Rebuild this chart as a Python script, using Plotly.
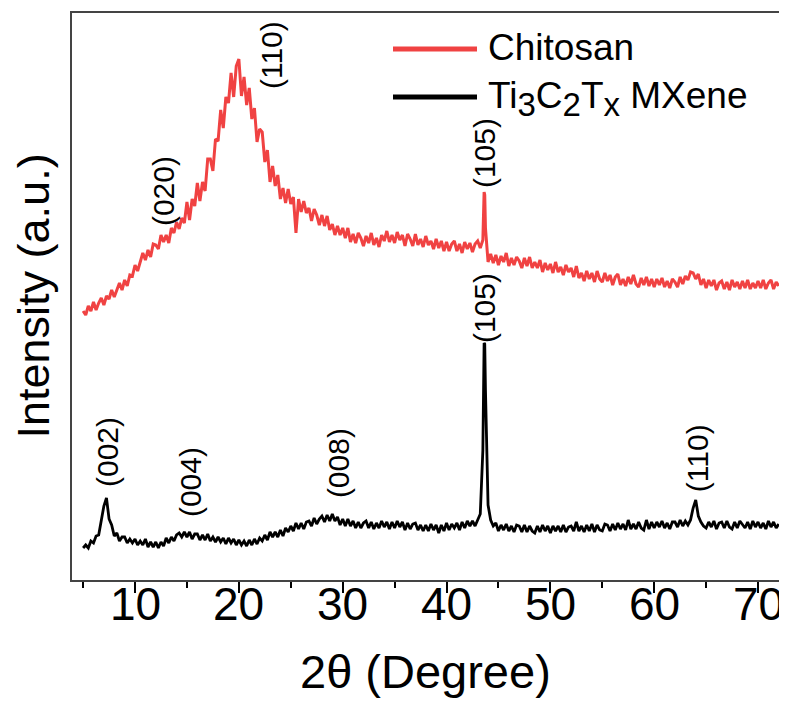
import numpy as np
import plotly.graph_objects as go

# ------------------------------
# 2theta scan grid (degrees), 0.25 deg steps
two_theta = np.arange(5.0, 72.001, 0.25)

# Intensity (a.u.), Chitosan trace (one row = 5 degrees)
chitosan = [
    269, 265, 274, 269, 278, 270, 277, 282, 275, 284, 281, 290, 283, 291, 297, 290, 300, 294, 305, 304,
    315, 309, 319, 327, 320, 330, 323, 336, 335, 331, 345, 338, 345, 337, 352, 347, 358, 351, 362, 357,
    378, 360, 381, 374, 397, 379, 398, 389, 421, 421, 409, 441, 439, 470, 452, 483, 477, 507, 483, 514,
    521, 484, 503, 475, 492, 461, 472, 438, 451, 448, 418, 430, 398, 414, 394, 405, 381, 392, 377, 391,
    376, 383, 347, 381, 368, 379, 367, 372, 359, 371, 365, 355, 365, 354, 364, 350, 356, 345, 354, 345,
    352, 342, 352, 338, 346, 337, 347, 342, 334, 344, 337, 347, 335, 342, 333, 345, 339, 349, 338, 345,
    337, 348, 340, 345, 334, 346, 341, 334, 346, 335, 341, 333, 344, 335, 339, 331, 341, 332, 339, 329,
    338, 329, 336, 339, 329, 336, 327, 338, 331, 337, 328, 336, 339, 332, 340, 352, 318, 326, 317, 325,
    315, 324, 318, 327, 314, 322, 315, 323, 319, 312, 322, 314, 323, 312, 318, 312, 320, 308, 317, 310,
    316, 307, 318, 308, 313, 305, 315, 308, 312, 303, 314, 302, 307, 299, 309, 301, 307, 298, 309, 301,
    298, 307, 299, 305, 295, 303, 306, 295, 301, 294, 303, 296, 305, 296, 293, 302, 295, 303, 294, 301,
    293, 301, 295, 302, 293, 299, 292, 301, 298, 293, 303, 296, 304, 300, 308, 307, 301, 306, 295, 301,
    292, 300, 294, 300, 290, 297, 299, 291, 298, 290, 300, 293, 298, 291, 299, 292, 300, 291, 297, 292,
    299, 292, 300, 291, 297, 300, 291, 298, 294,
]
# extra points on the sharp (105) reflection
chitosan_peak_x = [43.62, 43.68]
chitosan_peak_y = [388, 385]

# Intensity (a.u.), Ti3C2Tx MXene trace (one row = 5 degrees)
mxene = [
    32, 35, 32, 39, 37, 44, 45, 61, 74, 82, 61, 55, 44, 47, 39, 43, 43, 37, 41, 37,
    41, 35, 39, 35, 41, 33, 38, 33, 38, 32, 38, 34, 42, 37, 43, 39, 45, 47, 43, 48,
    43, 48, 41, 46, 46, 40, 45, 40, 46, 39, 43, 38, 43, 38, 42, 36, 42, 37, 41, 35,
    40, 35, 39, 34, 40, 35, 41, 36, 42, 39, 45, 40, 48, 43, 48, 43, 50, 44, 52, 48,
    54, 49, 57, 51, 57, 51, 58, 59, 54, 62, 56, 61, 64, 58, 65, 59, 66, 59, 63, 55,
    61, 54, 61, 54, 59, 52, 58, 52, 57, 59, 52, 58, 51, 57, 52, 59, 53, 58, 51, 58,
    52, 59, 53, 58, 50, 57, 51, 56, 57, 50, 55, 49, 55, 49, 56, 50, 55, 47, 55, 49,
    57, 50, 56, 52, 57, 50, 58, 52, 59, 54, 59, 54, 60, 66, 130, 190, 75, 60, 54, 57,
    49, 55, 50, 56, 49, 54, 48, 55, 54, 48, 55, 48, 54, 49, 47, 54, 48, 55, 49, 54,
    47, 54, 49, 54, 48, 55, 48, 53, 54, 49, 58, 49, 54, 48, 55, 49, 56, 48, 55, 50,
    49, 56, 55, 49, 56, 50, 57, 51, 56, 50, 60, 51, 56, 51, 58, 52, 50, 60, 51, 58,
    52, 58, 53, 59, 52, 57, 51, 58, 58, 53, 60, 54, 59, 55, 60, 72, 80, 64, 58, 54,
    52, 58, 53, 59, 51, 57, 58, 52, 59, 53, 51, 58, 52, 59, 56, 52, 58, 51, 59, 53,
    58, 52, 57, 51, 59, 53, 58, 52, 56,
]
mxene_peak_x = [43.62, 43.68]
mxene_peak_y = [237, 236]

x_ticks = [10, 20, 30, 40, 50, 60, 70]
x_minor = [5, 15, 25, 35, 45, 55, 65]


def merge(grid, vals, px, py):
    x = np.concatenate([grid, px])
    y = np.concatenate([np.asarray(vals, float), py])
    order = np.argsort(x, kind="stable")
    return x[order], y[order]


FONT = "Liberation Sans, Arial, sans-serif"
RED = "#F04242"
Y_TOP = 567   # y range in a.u.
PW, PH = 707, 567  # plot area size in px

fig = go.Figure()

xc, yc = merge(two_theta, chitosan, chitosan_peak_x, chitosan_peak_y)
xm, ym = merge(two_theta, mxene, mxene_peak_x, mxene_peak_y)

fig.add_trace(go.Scatter(x=xc, y=yc, mode="lines", name="Chitosan",
                         line=dict(color=RED, width=3)))
fig.add_trace(go.Scatter(x=xm, y=ym, mode="lines", name="Ti3C2Tx MXene",
                         line=dict(color="black", width=2.8)))

# ------------------------------
# peak labels (rotated)
peak_labels = [
    ("(020)", 12.7, 389), ("(110)", 23.1, 525), ("(105)", 43.62, 427),
    ("(105)", 43.62, 272), ("(002)", 7.3, 128), ("(004)", 15.3, 98),
    ("(008)", 29.56, 117), ("(110)", 64.14, 122),
]
annotations = []
for txt, px_, py_ in peak_labels:
    annotations.append(dict(x=px_, y=py_, xref="x", yref="y", text=txt,
                            textangle=-90, showarrow=False,
                            xanchor="center", yanchor="middle",
                            font=dict(family=FONT, size=30, color="black")))

# x tick labels (placed by hand, plotly puts big labels too low)
for t in x_ticks:
    annotations.append(dict(x=t, y=-24 / PH, xref="x", yref="paper", text=str(t),
                            showarrow=False, xanchor="center", yanchor="middle",
                            font=dict(family=FONT, size=46, color="black")))

# axis titles (positions in px relative to the plot frame)
annotations.append(dict(x=0.5, y=-91 / PH, xref="paper", yref="paper",
                        text="2θ (Degree)", showarrow=False, xanchor="center",
                        yanchor="middle", font=dict(family=FONT, size=47, color="black")))
annotations.append(dict(x=-39 / PW, y=0.5, xref="paper", yref="paper",
                        text="Intensity (a.u.)", textangle=-90, showarrow=False,
                        xanchor="center", yanchor="middle",
                        font=dict(family=FONT, size=45, color="black")))

# legend drawn by hand (long line samples)
leg_x0 = 321 / PW
leg_x1 = 405 / PW
shapes = [
    dict(type="line", xref="paper", yref="paper", x0=leg_x0, x1=leg_x1,
         y0=1 - 36 / PH, y1=1 - 36 / PH, line=dict(color=RED, width=5)),
    dict(type="line", xref="paper", yref="paper", x0=leg_x0, x1=leg_x1,
         y0=1 - 84 / PH, y1=1 - 84 / PH, line=dict(color="black", width=5)),
]
SUB = "<sub><span style='font-size:33px'>{}</span></sub>"
annotations.append(dict(x=414 / PW, y=1 - 34 / PH, xref="paper", yref="paper",
                        text="Chitosan", showarrow=False, xanchor="left",
                        yanchor="middle", font=dict(family=FONT, size=37, color="black")))
annotations.append(dict(x=414 / PW, y=1 - 86 / PH, xref="paper", yref="paper",
                        text="Ti" + SUB.format("3") + "C" + SUB.format("2") + "T"
                             + SUB.format("x") + " MXene",
                        showarrow=False, xanchor="left", yanchor="middle",
                        font=dict(family=FONT, size=37, color="black")))

# the page body adds an 8 px offset, so the figure is 8 px smaller
fig.update_layout(
    width=779, height=701,
    margin=dict(l=64, r=8, t=5, b=129),
    paper_bgcolor="white", plot_bgcolor="white",
    showlegend=False,
    font=dict(family=FONT, color="black"),
    xaxis=dict(
        range=[3.93, 72.02], tickvals=x_ticks, ticks="outside",
        ticklen=11, tickwidth=2, tickcolor="black", showticklabels=False,
        minor=dict(tickvals=x_minor, ticks="outside", ticklen=6,
                   tickwidth=2, tickcolor="black"),
        showline=True, linecolor="#444444", linewidth=1.5, mirror=True,
        showgrid=False, zeroline=False, automargin=False,
    ),
    yaxis=dict(
        range=[0, Y_TOP], showticklabels=False, ticks="",
        showline=True, linecolor="#444444", linewidth=1.5, mirror=True,
        showgrid=False, zeroline=False, automargin=False,
    ),
    annotations=annotations,
    shapes=shapes,
)

fig.write_html("out.html")
